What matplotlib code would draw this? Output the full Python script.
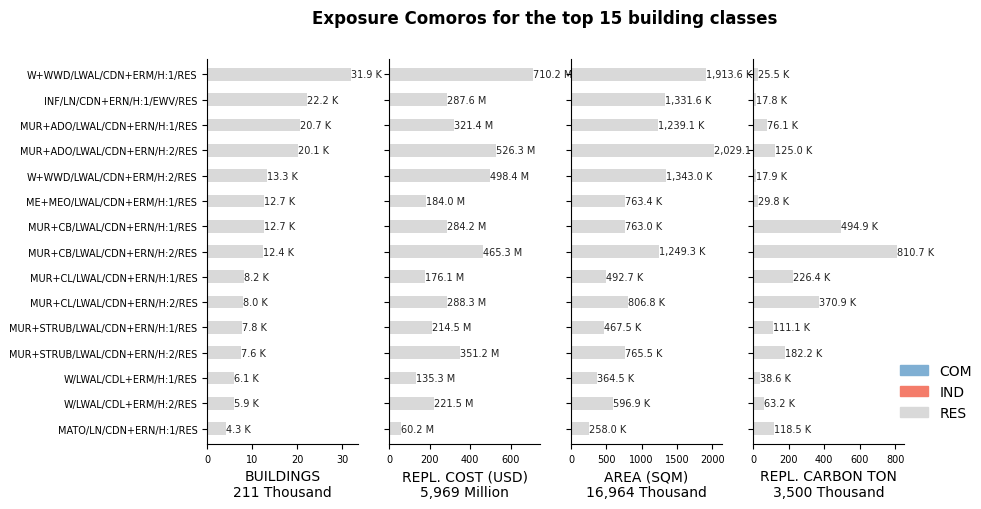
import matplotlib
matplotlib.use("Agg")
import matplotlib.pyplot as plt
from matplotlib.patches import Patch

classes = ["W+WWD/LWAL/CDN+ERM/H:1/RES", "INF/LN/CDN+ERN/H:1/EWV/RES",
           "MUR+ADO/LWAL/CDN+ERN/H:1/RES", "MUR+ADO/LWAL/CDN+ERN/H:2/RES",
           "W+WWD/LWAL/CDN+ERM/H:2/RES", "ME+MEO/LWAL/CDN+ERM/H:1/RES",
           "MUR+CB/LWAL/CDN+ERN/H:1/RES", "MUR+CB/LWAL/CDN+ERN/H:2/RES",
           "MUR+CL/LWAL/CDN+ERN/H:1/RES", "MUR+CL/LWAL/CDN+ERN/H:2/RES",
           "MUR+STRUB/LWAL/CDN+ERN/H:1/RES", "MUR+STRUB/LWAL/CDN+ERN/H:2/RES",
           "W/LWAL/CDL+ERM/H:1/RES", "W/LWAL/CDL+ERM/H:2/RES",
           "MATO/LN/CDN+ERN/H:1/RES"]
buildings = [31.9, 22.2, 20.7, 20.1, 13.3, 12.7, 12.7, 12.4, 8.2, 8.0, 7.8, 7.6, 6.1, 5.9, 4.3]
cost = [710.2, 287.6, 321.4, 526.3, 498.4, 184.0, 284.2, 465.3, 176.1, 288.3, 214.5, 351.2, 135.3, 221.5, 60.2]
area = [1913.6, 1331.6, 1239.1, 2029.1, 1343.0, 763.4, 763.0, 1249.3, 492.7, 806.8, 467.5, 765.5, 364.5, 596.9, 258.0]
carbon = [25.5, 17.8, 76.1, 125.0, 17.9, 29.8, 494.9, 810.7, 226.4, 370.9, 111.1, 182.2, 38.6, 63.2, 118.5]

panels = [(buildings, "K", "BUILDINGS\n211 Thousand", 33.5, [0, 10, 20, 30]),
          (cost, "M", "REPL. COST (USD)\n5,969 Million", 745, [0, 200, 400, 600]),
          (area, "K", "AREA (SQM)\n16,964 Thousand", 2140, [0, 500, 1000, 1500, 2000]),
          (carbon, "K", "REPL. CARBON TON\n3,500 Thousand", 850, [0, 200, 400, 600, 800])]

fig = plt.figure(figsize=(9.81, 5.10), dpi=100)
fig.suptitle("Exposure Comoros for the top 15 building classes", fontsize=12,
             fontweight="bold", x=0.555, y=0.98)
lefts = [207, 389, 571, 753]
y = list(range(len(classes)))
for i, (vals, unit, label, xmax, ticks) in enumerate(panels):
    ax = fig.add_axes([lefts[i] / 981, 65 / 510, 151 / 981, 385 / 510])
    ax.barh(y, vals, height=0.5, color="#d9d9d9")
    for yy, v in zip(y, vals):
        ax.text(v, yy, f"{v:,.1f} {unit}", va="center", ha="left", fontsize=7, color="#222222")
    ax.set_ylim(14.6, -0.6)
    ax.set_xlim(0, xmax)
    ax.set_xticks(ticks)
    ax.tick_params(axis="x", labelsize=7)
    ax.set_yticks(y)
    if i == 0:
        ax.set_yticklabels(classes, fontsize=7)
    else:
        ax.set_yticklabels([])
    ax.set_xlabel(label, fontsize=10)
    ax.spines["top"].set_visible(False)
    ax.spines["right"].set_visible(False)

handles = [Patch(color="#7fafd3", label="COM"), Patch(color="#f47c6a", label="IND"),
           Patch(color="#d9d9d9", label="RES")]
fig.legend(handles=handles, loc="center left", bbox_to_anchor=(0.905, 0.23),
           frameon=False, fontsize=10)
fig.savefig("out.png", dpi=100)
